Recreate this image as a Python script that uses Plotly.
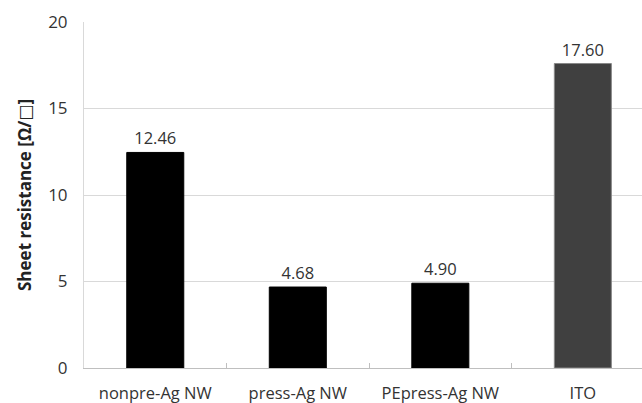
import plotly.graph_objects as go

categories = ["nonpre-Ag NW", "press-Ag NW", "PEpress-Ag NW", "ITO"]
values = [12.46, 4.68, 4.90, 17.60]
labels = ["12.46", "4.68", "4.90", "17.60"]
bar_colors = ["#000000", "#000000", "#000000", "#404040"]
line_colors = ["#000000", "#000000", "#000000", "#888888"]
y_ticks = [0, 5, 10, 15, 20]

font_family = "Open Sans, DejaVu Sans, sans-serif"

fig = go.Figure(
    go.Bar(
        x=categories,
        y=values,
        text=labels,
        textposition="outside",
        cliponaxis=False,
        textfont=dict(size=16.5, color="#333333", family=font_family),
        marker=dict(color=bar_colors, line=dict(color=line_colors, width=1)),
        width=0.4,
    )
)

fig.update_layout(
    width=642,
    height=403,
    margin=dict(l=84, r=0, t=22, b=35),
    plot_bgcolor="white",
    paper_bgcolor="white",
    showlegend=False,
    font=dict(family=font_family, color="#333333"),
)

fig.update_xaxes(
    range=[-0.5, 3.415],
    showline=True,
    linecolor="#bfbfbf",
    linewidth=1,
    ticks="inside",
    tickson="boundaries",
    ticklen=5,
    tickcolor="#bfbfbf",
    tickfont=dict(size=16.5, color="#333333"),
    ticklabelstandoff=10,
    showgrid=False,
)

fig.update_yaxes(
    range=[0, 20],
    tickvals=y_ticks,
    showgrid=True,
    gridcolor="#d9d9d9",
    gridwidth=1,
    showline=True,
    linecolor="#d9d9d9",
    zeroline=False,
    tickfont=dict(size=17, color="#333333"),
    ticks="",
    ticklabelstandoff=12,
    title=dict(
        text="<b>Sheet resistance [Ω/□]</b>",
        font=dict(size=17, color="#222222"),
        standoff=12,
    ),
)

fig.write_html(
    "out.html",
    config={"displayModeBar": False},
    post_script="document.body.style.margin='0';",
)
